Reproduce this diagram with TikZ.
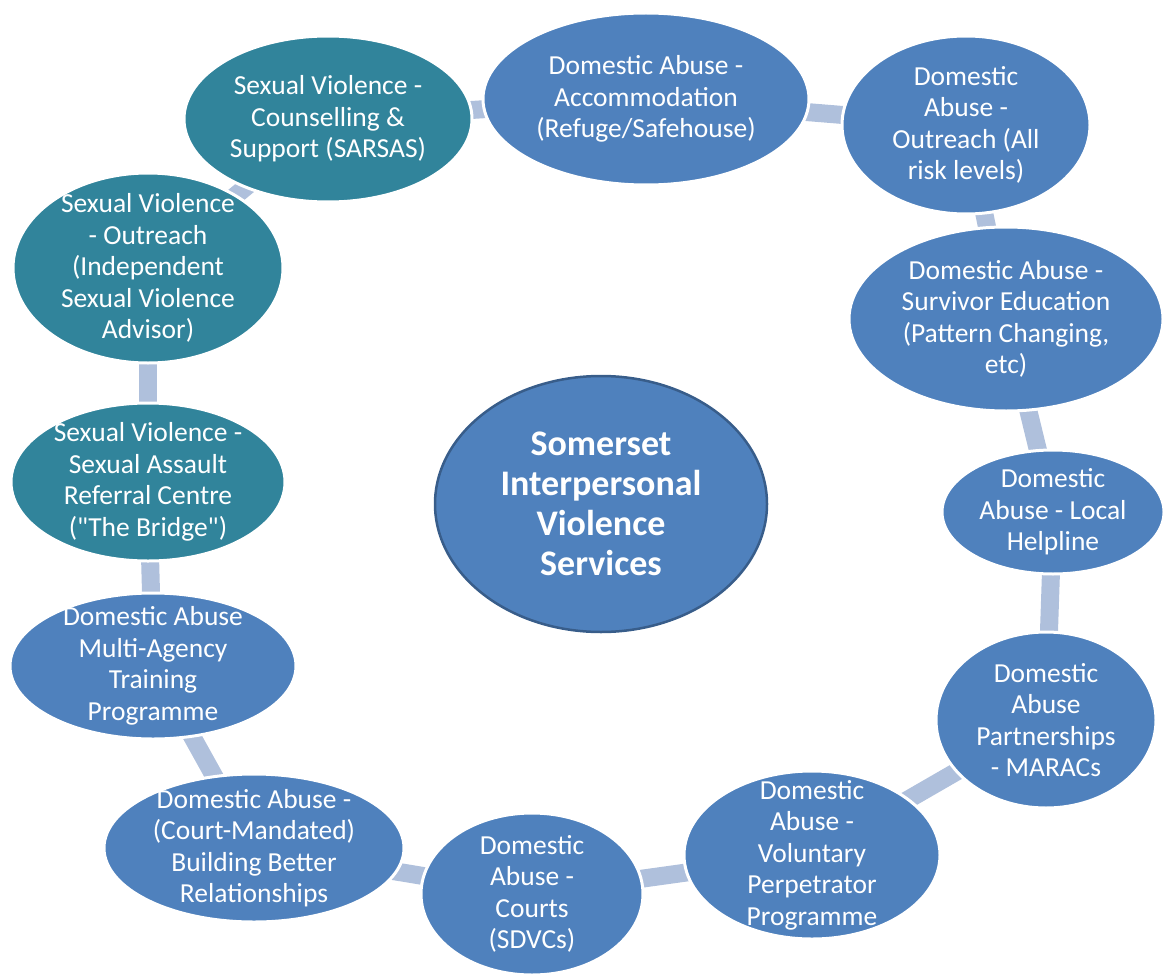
\documentclass[tikz,border=0pt]{standalone}
\usepackage{fontspec}
\setmainfont{Carlito}
\usetikzlibrary{shapes.geometric,backgrounds}
\definecolor{dablue}{HTML}{4F81BD}
\definecolor{svteal}{HTML}{31849B}
\definecolor{rimblue}{HTML}{385D8A}
\definecolor{linkblue}{HTML}{AFC0DC}
\tikzset{
  svc/.style={ellipse, fill=dablue, draw=white, line width=3pt, text=white,
    align=center, inner sep=-25pt, font=\fontsize{27.5}{31.5}\selectfont},
  sv/.style={svc, fill=svteal},
  hub/.style={ellipse, fill=dablue, draw=rimblue, line width=2.5pt, text=white,
    align=center, inner sep=-25pt, font=\fontsize{36}{40}\selectfont\bfseries},
  link/.style={draw=linkblue, line width=18pt}
}
\begin{document}
\begin{tikzpicture}[x=1pt,y=-1pt]
    \useasboundingbox (0,0) rectangle (1164,979);
    % centre
    \node[hub, minimum width=332, minimum height=256] (hub) at (601,504) {Somerset\\Interpersonal\\Violence\\Services};
    % ring of services
    \node[svc, minimum width=326, minimum height=172] (accom) at (646,99) {Domestic Abuse -\\Accommodation\\(Refuge/Safehouse)};
    \node[svc, minimum width=248, minimum height=178] (daout) at (966,125) {Domestic\\Abuse -\\Outreach (All\\risk levels)};
    \node[svc, minimum width=314, minimum height=184] (survivor) at (1006,319) {Domestic Abuse -\\Survivor Education\\(Pattern Changing,\\etc)};
    \node[svc, minimum width=222, minimum height=124] (helpline) at (1053,512) {Domestic\\Abuse - Local\\Helpline};
    \node[svc, minimum width=220, minimum height=176] (marac) at (1046,720) {Domestic\\Abuse\\Partnerships\\- MARACs};
    \node[svc, minimum width=256, minimum height=168] (volunt) at (812,855) {Domestic\\Abuse -\\Voluntary\\Perpetrator\\Programme};
    \node[svc, minimum width=222, minimum height=162] (courts) at (532,894) {Domestic\\Abuse -\\Courts\\(SDVCs)};
    \node[svc, minimum width=300, minimum height=148] (bbr) at (254,848) {Domestic Abuse -\\(Court-Mandated)\\Building Better\\Relationships};
    \node[svc, minimum width=286, minimum height=146] (training) at (153,666) {Domestic Abuse\\Multi-Agency\\Training\\Programme};
    \node[sv, minimum width=274, minimum height=158] (sarc) at (148,482) {Sexual Violence -\\Sexual Assault\\Referral Centre\\(\textquotedbl The Bridge\textquotedbl)};
    \node[sv, minimum width=270, minimum height=190] (svout) at (148,268) {Sexual Violence\\- Outreach\\(Independent\\Sexual Violence\\Advisor)};
    \node[sv, minimum width=288, minimum height=166] (sarsas) at (328,119) {Sexual Violence -\\Counselling \&\\Support (SARSAS)};
    % links behind the ring
    \begin{scope}[on background layer]
        \draw[link] (accom.center) -- (daout.center);
        \draw[link] (daout.center) -- (survivor.center);
        \draw[link] (survivor.center) -- (helpline.center);
        \draw[link] (helpline.center) -- (marac.center);
        \draw[link] (marac.center) -- (volunt.center);
        \draw[link] (volunt.center) -- (courts.center);
        \draw[link] (courts.center) -- (bbr.center);
        \draw[link] (bbr.center) -- (training.center);
        \draw[link] (training.center) -- (sarc.center);
        \draw[link] (sarc.center) -- (svout.center);
        \draw[link] (svout.center) -- (sarsas.center);
        \draw[link] (sarsas.center) -- (accom.center);
    \end{scope}
\end{tikzpicture}
\end{document}
